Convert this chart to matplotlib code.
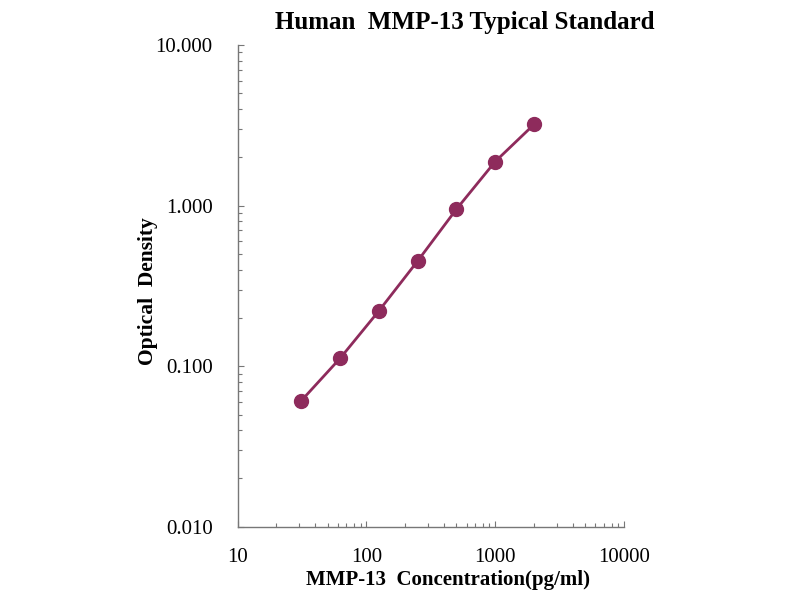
import matplotlib.pyplot as plt
from matplotlib.ticker import FixedLocator, FixedFormatter, LogLocator, NullFormatter

# standard curve data
conc = [31.25, 62.5, 125, 250, 500, 1000, 2000]
od = [0.061, 0.112, 0.221, 0.452, 0.950, 1.88, 3.20]

xticks = [10, 100, 1000, 10000]
xlabels = ["10", "100", "1000", "10000"]
yticks = [0.01, 0.1, 1, 10]
ylabels = ["0.010", "0.100", "1.000", "10.000"]

plt.rcParams['font.family'] = ['Liberation Serif', 'DejaVu Serif']

fig = plt.figure(figsize=(8, 6), dpi=100)
ax = fig.add_axes([0.297, 0.122, 0.483, 0.803])

col = '#8E2B5C'
ax.plot(conc, od, '-', color=col, lw=2, marker='o', ms=10,
        markerfacecolor=col, markeredgecolor=col)

ax.set_xscale('log')
ax.set_yscale('log')
ax.set_xlim(10, 10000)
ax.set_ylim(0.01, 10)

ax.xaxis.set_major_locator(FixedLocator(xticks))
ax.xaxis.set_major_formatter(FixedFormatter(xlabels))
ax.yaxis.set_major_locator(FixedLocator(yticks))
ax.yaxis.set_major_formatter(FixedFormatter(ylabels))
ax.xaxis.set_minor_locator(LogLocator(base=10, subs=range(2, 10)))
ax.yaxis.set_minor_locator(LogLocator(base=10, subs=range(2, 10)))
ax.xaxis.set_minor_formatter(NullFormatter())
ax.yaxis.set_minor_formatter(NullFormatter())

for s in ['top', 'right']:
    ax.spines[s].set_visible(False)
for s in ['left', 'bottom']:
    ax.spines[s].set_color('#777777')
    ax.spines[s].set_linewidth(1)

ax.tick_params(which='both', direction='in', color='#777777', width=0.8)
ax.tick_params(which='major', length=4, labelsize=15, pad=15)
ax.tick_params(which='minor', length=3)
ax.tick_params(axis='y', which='major', pad=18)

fig.text(465 / 800, 1 - 22 / 600, "Human  MMP-13 Typical Standard",
         fontsize=18, fontweight='bold', ha='center', va='center')
ax.set_xlabel("MMP-13  Concentration(pg/ml)", fontsize=15, fontweight='bold')
ax.xaxis.set_label_coords((448 - 237.6) / 386.4, -(580 - 527) / 481.8)
ax.set_ylabel("Optical  Density", fontsize=15.5, fontweight='bold')
ax.yaxis.set_label_coords(-(237.6 - 148) / 386.4, (527 - 291) / 481.8)
ax.xaxis.label.set_va('center')
ax.yaxis.label.set_va('center')

fig.savefig("out.png", dpi=100)
